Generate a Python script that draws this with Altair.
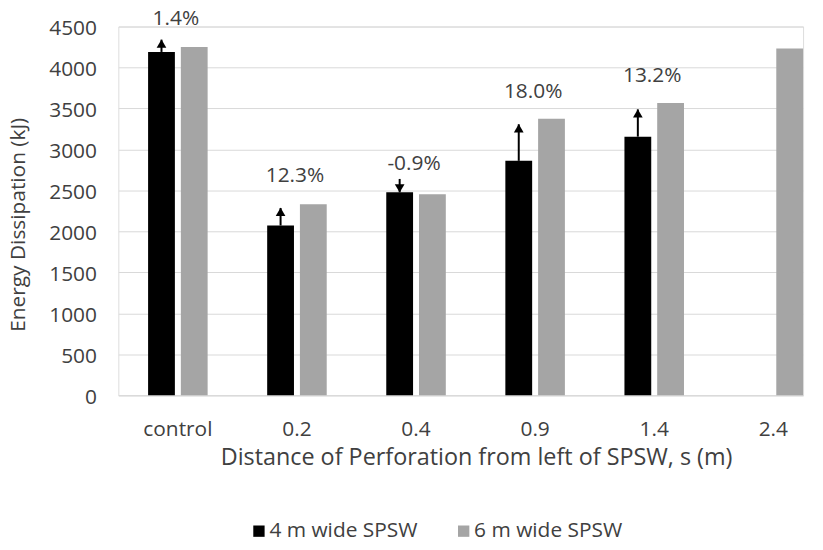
import altair as alt
import pandas as pd

# ---- data ----
categories = ["control", "0.2", "0.4", "0.9", "1.4", "2.4"]
series_names = ["4 m wide SPSW", "6 m wide SPSW"]
energy_4m = [4190, 2072, 2477, 2861, 3156, None]
energy_6m = [4250, 2330, 2452, 3375, 3568, 4232]

change_categories = ["control", "0.2", "0.4", "0.9", "1.4"]
change_labels = ["1.4%", "12.3%", "-0.9%", "18.0%", "13.2%"]
change_label_y = [4591, 2670, 2825, 3702, 3893]
arrow_start = [4190, 2072, 2640, 2861, 3156]
arrow_tip = [4340, 2286, 2477, 3307, 3489]

y_ticks = [0, 500, 1000, 1500, 2000, 2500, 3000, 3500, 4000, 4500]

# ---- tables ----
rows = []
for c, v in zip(categories, energy_4m):
    if v is not None:
        rows.append({"cat": c, "series": series_names[0], "energy": v})
for c, v in zip(categories, energy_6m):
    if v is not None:
        rows.append({"cat": c, "series": series_names[1], "energy": v})
bar_df = pd.DataFrame(rows)

arrow_df = pd.DataFrame({
    "cat": change_categories,
    "series": [series_names[0]] * len(change_categories),
    "start": arrow_start,
    "tip": arrow_tip,
})
label_df = pd.DataFrame({"cat": change_categories, "label": change_labels, "ypos": change_label_y})

TXT = "#404040"
FONT = "Open Sans"

x_scale = alt.Scale(domain=categories, paddingInner=0.5, paddingOuter=0.125, align=1)
off_scale = alt.Scale(domain=series_names, paddingInner=0.1818, paddingOuter=0)
y_scale = alt.Scale(domain=[0, 4500], nice=False)

x_axis = alt.Axis(
    title="Distance of Perforation from left of SPSW, s (m)",
    labelAngle=0, ticks=False, domainColor="#d9d9d9", labelPadding=23,
    labelFontSize=21, titleFontSize=23.5, titleFontWeight="normal",
    labelColor=TXT, titleColor=TXT, labelFont=FONT, titleFont=FONT,
    titleX=360, titleY=70, titleBaseline="alphabetic", titleAlign="center",
    grid=False,
)
y_axis = alt.Axis(
    values=y_ticks, format="d", title="Energy Dissipation (kJ)", domain=False, ticks=False,
    gridColor="#d9d9d9", gridWidth=1, labelPadding=22, labelFontSize=21,
    titleFontSize=21, titleFontWeight="normal", labelColor=TXT, titleColor=TXT,
    labelFont=FONT, titleFont=FONT, titleX=-94, titleY=199, titleAngle=270,
    titleBaseline="alphabetic", titleAlign="center", labelOffset=2,
)

X = alt.X("cat:N", scale=x_scale, axis=x_axis, sort=categories)
XO = alt.XOffset("series:N", scale=off_scale, sort=series_names)

bars = alt.Chart(bar_df).mark_bar().encode(
    x=X,
    xOffset=XO,
    y=alt.Y("energy:Q", scale=y_scale, axis=y_axis),
    color=alt.Color(
        "series:N",
        scale=alt.Scale(domain=series_names, range=["#000000", "#a5a5a5"]),
        legend=alt.Legend(
            title=None, orient="none", direction="horizontal",
            legendX=131, legendY=497, symbolType="square", symbolSize=130,
            symbolStrokeWidth=0, labelFontSize=21, labelColor=TXT, labelFont=FONT,
            labelOffset=0, columnPadding=35,
        ),
    ),
)

arrow_lines = alt.Chart(arrow_df).mark_rule(strokeWidth=2, color="black").encode(
    x=X, xOffset=XO, y=alt.Y("start:Q", scale=y_scale), y2="tip:Q"
)
heads_up = alt.Chart(arrow_df).transform_filter("datum.tip > datum.start").mark_point(
    shape="triangle-up", filled=True, size=95, color="black", opacity=1, yOffset=4
).encode(x=X, xOffset=XO, y=alt.Y("tip:Q", scale=y_scale))
heads_down = alt.Chart(arrow_df).transform_filter("datum.tip < datum.start").mark_point(
    shape="triangle-down", filled=True, size=95, color="black", opacity=1, yOffset=-4
).encode(x=X, xOffset=XO, y=alt.Y("tip:Q", scale=y_scale))

labels = alt.Chart(label_df).mark_text(
    fontSize=21, font=FONT, color=TXT, baseline="middle", align="center", dx=-2
).encode(x=X, y=alt.Y("ypos:Q", scale=y_scale), text="label:N")

chart = alt.layer(bars, arrow_lines, heads_up, heads_down, labels).properties(
    width=689, height=371,
    autosize=alt.AutoSizeParams(type="none"),
    padding={"left": 111, "top": 17, "right": 12, "bottom": 146},
).configure_view(stroke=None).configure(font=FONT)

chart.save("out.html", embed_options={"renderer": "svg", "actions": False})
